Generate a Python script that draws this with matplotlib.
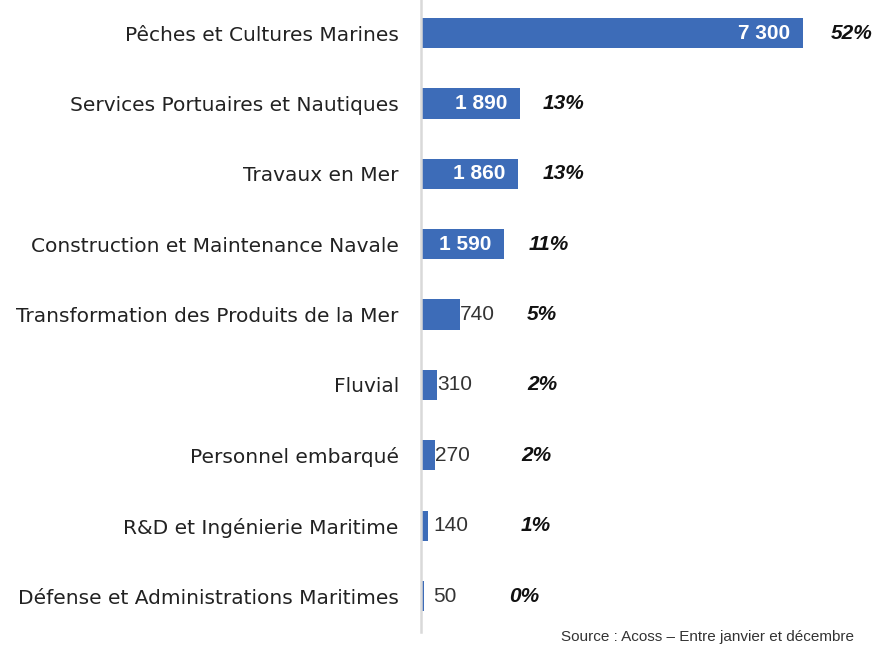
import matplotlib
matplotlib.use("Agg")
import matplotlib.pyplot as plt

# data
categories = [
    "Pêches et Cultures Marines",
    "Services Portuaires et Nautiques",
    "Travaux en Mer",
    "Construction et Maintenance Navale",
    "Transformation des Produits de la Mer",
    "Fluvial",
    "Personnel embarqué",
    "R&D et Ingénierie Maritime",
    "Défense et Administrations Maritimes",
]
values = [7300, 1890, 1860, 1590, 740, 310, 270, 140, 50]
value_labels = ["7 300", "1 890", "1 860", "1 590", "740", "310", "270", "140", "50"]
pct_labels = ["52%", "13%", "13%", "11%", "5%", "2%", "2%", "1%", "0%"]
# x position (data units) where each percent label starts
pct_x = [7835, 2331, 2331, 2064, 2026, 2026, 1911, 1911, 1682]

bar_color = "#3d6cb8"
plt.rcParams['font.family'] = ['Liberation Sans', 'DejaVu Sans']

fig = plt.figure(figsize=(8.77, 6.45), dpi=100)
ax = fig.add_axes([421 / 877, 13 / 645, 456 / 877, 632 / 645])

pos = list(range(len(categories)))
ax.barh(pos, values, height=0.43, color=bar_color)
ax.set_xlim(0, 8714)
ax.set_ylim(8.51, -0.47)

ax.set_yticks(pos)
ax.set_yticklabels(categories, fontsize=14.5, color="#222222", family="DejaVu Sans")
ax.tick_params(axis="y", length=0, pad=16)
ax.set_xticks([])
for s in ["top", "right", "bottom"]:
    ax.spines[s].set_visible(False)
ax.spines["left"].set_color("#d9d9d9")
ax.spines["left"].set_linewidth(1.8)

for i, v in enumerate(values):
    if v >= 1000:
        ax.annotate(value_labels[i], (v, i), xytext=(-9, 0), textcoords="offset points",
                    ha="right", va="center", color="white", fontsize=15, fontweight="bold")
    else:
        ax.annotate(value_labels[i], (max(v, 240), i), xytext=(0, 0), textcoords="offset points",
                    ha="left", va="center", color="#333333", fontsize=15)
    ax.text(pct_x[i], i, pct_labels[i], ha="left", va="center", fontsize=15,
            fontweight="bold", fontstyle="italic", color="#111111")

fig.text(561 / 877, 1 / 645, "Source : Acoss – Entre janvier et décembre",
         ha="left", va="bottom", fontsize=11, color="#333333")

fig.savefig("out.png", dpi=100)
